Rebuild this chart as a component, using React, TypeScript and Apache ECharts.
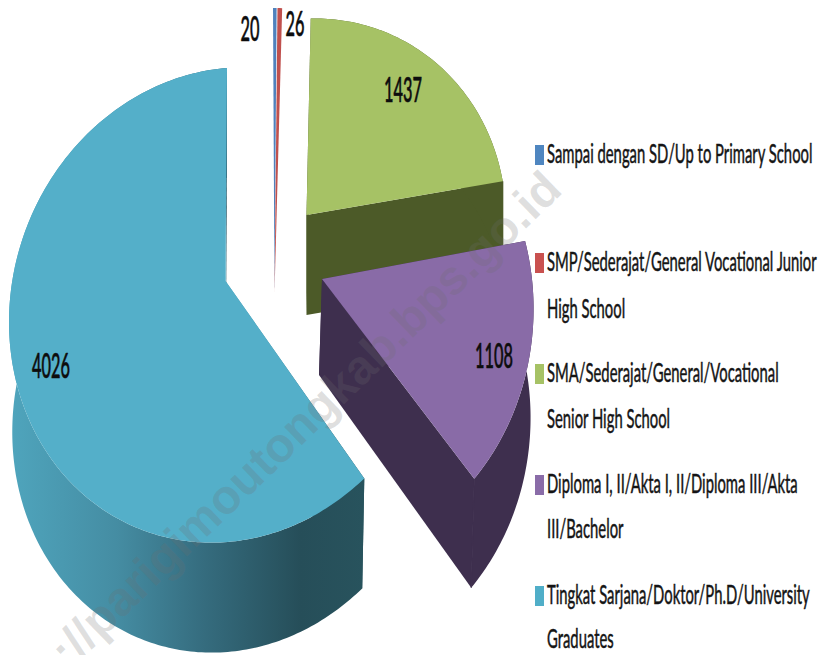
import React, { useEffect, useRef } from "react";
import * as echarts from "echarts";

const categories = [
  "Sampai dengan SD/Up to Primary School",
  "SMP/Sederajat/General Vocational Junior High School",
  "SMA/Sederajat/General/Vocational Senior High School",
  "Diploma I, II/Akta I, II/Diploma III/Akta III/Bachelor",
  "Tingkat Sarjana/Doktor/Ph.D/University Graduates",
];
const values = [20, 26, 1437, 1108, 4026];
const legendLines = [
  ["Sampai dengan SD/Up to Primary School"],
  ["SMP/Sederajat/General Vocational Junior", "High School"],
  ["SMA/Sederajat/General/Vocational", "Senior High School"],
  ["Diploma I, II/Akta I, II/Diploma III/Akta", "III/Bachelor"],
  ["Tingkat Sarjana/Doktor/Ph.D/University", "Graduates"],
];
const topColors = ["#4f81bd", "#c0504d", "#a6c265", "#896ba7", "#54afc9"];
const legendColors = ["#4f86c0", "#c9514f", "#a6c265", "#8a6ca8", "#50aec8"];
const wallColors: any[] = [
  "#3c628f",
  "#8f3b39",
  "#4c5a28",
  "#3e2f4e",
  {
    type: "linear", x: 0, y: 0, x2: 1, y2: 0,
    colorStops: [
      { offset: 0, color: "#4fa5bd" },
      { offset: 0.3, color: "#458da3" },
      { offset: 0.55, color: "#356c7e" },
      { offset: 0.82, color: "#264e59" },
      { offset: 1, color: "#28535d" },
    ],
  },
];

// projected layout of each exploded slice (pixels)
const layouts = [
  { tipX: 274.5, tipY: 293, cx: 274.5, cy: 293, rx: 190, ry: 285, s: 0, t: 0, rotate: -0.45, depth: 0, tipDepth: 0, dx: 0, scale: 1 },
  { tipX: 274.5, tipY: 293, cx: 274.5, cy: 293, rx: 190, ry: 285, s: 0, t: 0, rotate: -0.19, depth: 0, tipDepth: 0, dx: 0, scale: 1 },
  { tipX: 306.5, tipY: 215, cx: 306, cy: 229, rx: 200, ry: 210, s: -4, t: -14, rotate: 0, depth: 100, tipDepth: 100, dx: 0, scale: 1 },
  { tipX: 322, tipY: 279, cx: 322, cy: 314.4, rx: 210, ry: 240, s: -25.7, t: -35, rotate: 0, depth: 109, tipDepth: 96, dx: -3, scale: 1 },
  { tipX: 225.5, tipY: 281, cx: 227, cy: 305, rx: 218, ry: 237, s: 0, t: -17, rotate: 0, depth: 110, tipDepth: 110, dx: 0, scale: 0.985 },
];
const labelPos = [
  [250, 28],
  [295, 23],
  [403, 89],
  [494, 355],
  [51, 365],
];
const legendRows = [
  [155],
  [263, 310],
  [374, 420],
  [485, 530],
  [596, 640],
];

const total = values.reduce((a, b) => a + b, 0);

function rim(l: any, deg: number, bottom = false) {
  const a = ((deg + l.rotate) * Math.PI) / 180;
  const k = bottom ? l.scale : 1;
  return [
    l.cx + k * l.rx * Math.sin(a) + l.s * Math.cos(a) + (bottom ? l.dx : 0),
    l.cy - l.ry * Math.cos(a) + l.t * Math.sin(a) + (bottom ? l.depth : 0),
  ];
}

function renderSlice(params: any, api: any) {
  const i = params.dataIndex;
  const l = layouts[i];
  let before = 0;
  for (let k = 0; k < i; k++) before += values[k];
  const start = (before / total) * 360;
  const end = ((before + api.value(0)) / total) * 360;
  const steps = Math.max(2, Math.ceil(end - start));
  const top: number[][] = [];
  const bot: number[][] = [];
  for (let k = 0; k <= steps; k++) {
    const d = start + ((end - start) * k) / steps;
    top.push(rim(l, d));
    bot.push(rim(l, d, true));
  }
  const tip = [l.tipX, l.tipY];
  const tipB = [l.tipX + l.dx, l.tipY + l.tipDepth];
  const children: any[] = [];
  if (l.depth > 0) {
    const wallStyle = { fill: wallColors[i] };
    children.push({ type: "polygon", shape: { points: [tip, top[0], bot[0], tipB] }, style: wallStyle });
    children.push({ type: "polygon", shape: { points: [tip, top[steps], bot[steps], tipB] }, style: wallStyle });
    children.push({ type: "polygon", shape: { points: [...top, ...bot.slice().reverse()] }, style: wallStyle });
    if (typeof wallColors[i] === "string") {
      children.push({
        type: "line",
        shape: { x1: top[steps][0], y1: top[steps][1], x2: bot[steps][0], y2: bot[steps][1] },
        style: { stroke: wallColors[i], lineWidth: 1.2 },
      });
    }
  }
  children.push({
    type: "polygon",
    shape: { points: [tip, ...top] },
    style: { fill: topColors[i] },
  });
  return { type: "group", children };
}

export default function App() {
  const ref = useRef<HTMLDivElement>(null);
  useEffect(() => {
    const chart = echarts.init(ref.current!, undefined, { renderer: "svg" });
    const textSx = {
      font: "400 26px Lato", fill: "#141414", align: "left", verticalAlign: "middle",
      stroke: "#141414", lineWidth: 0.5,
    };
    const legend: any[] = [];
    legendLines.forEach((lines, i) => {
      legend.push({
        type: "rect", z: 20,
        shape: { x: 535, y: legendRows[i][0] - 10, width: 9, height: 20 },
        style: { fill: legendColors[i] },
      });
      lines.forEach((t, j) => {
        legend.push({
          type: "text", z: 20, x: 547, y: legendRows[i][j] - 2, scaleX: 0.57,
          style: { ...textSx, text: t },
        });
      });
    });
    const labels = values.map((v, i) => ({
      type: "text", z: 30, x: labelPos[i][0], y: labelPos[i][1], scaleX: 0.48,
      style: {
        text: String(v), font: "500 34px Lato", fill: "#0d0d0d", align: "center", verticalAlign: "middle",
        stroke: "#0d0d0d", lineWidth: 0.6,
      },
    }));
    chart.setOption({
      animation: false,
      backgroundColor: "#ffffff",
      series: [
        {
          type: "custom",
          coordinateSystem: "none",
          silent: true,
          renderItem: renderSlice,
          data: values.map((v, i) => ({ value: [v], name: categories[i] })),
        },
      ],
      graphic: [
        ...legend,
        ...labels,
        {
          type: "text", z: 40, x: 58, y: 658, rotation: (44 * Math.PI) / 180,
          style: {
            text: "://parigimoutongkab.bps.go.id",
            font: "700 48px 'Liberation Sans'",
            fill: "rgba(110,110,110,0.22)",
            align: "left", verticalAlign: "middle",
          },
        },
        { type: "rect", z: 50, shape: { x: 818, y: 0, width: 7, height: 655 }, style: { fill: "#fff" } },
      ],
    });
    return () => chart.dispose();
  }, []);
  return <div ref={ref} style={{ position: "absolute", left: 0, top: 0, width: 825, height: 655 }} />;
}
